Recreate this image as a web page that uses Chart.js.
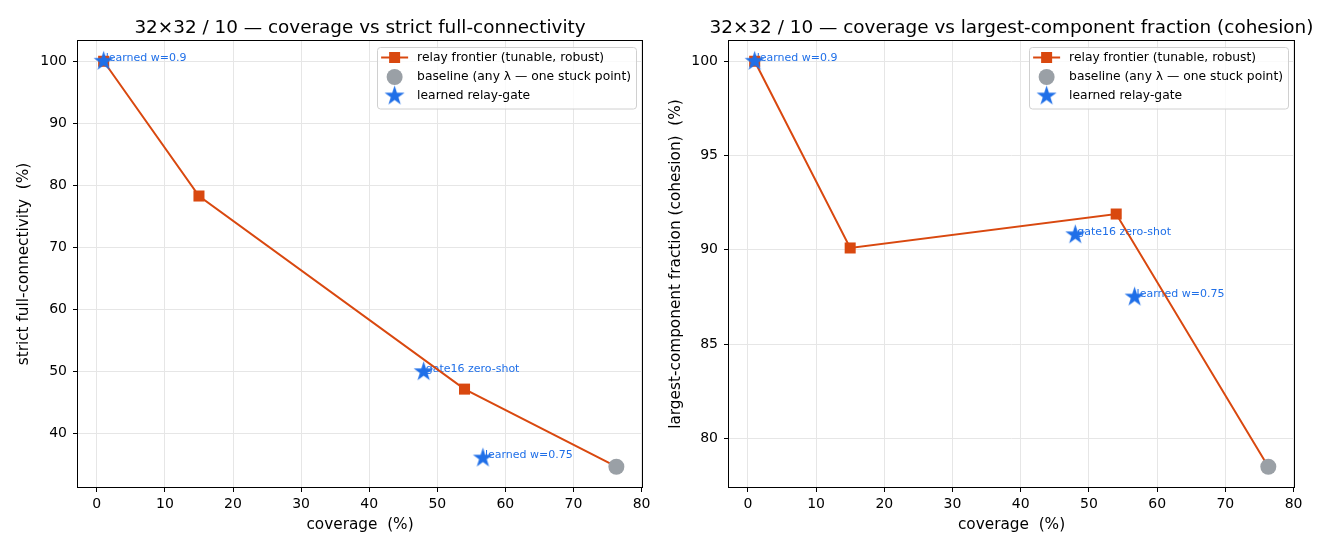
<!DOCTYPE html>
<html>
<head>
<meta charset="utf-8">
<script src="https://cdn.jsdelivr.net/npm/chart.js@4.4.1/dist/chart.umd.min.js"></script>
<style>
  html, body { margin: 0; padding: 0; background: #fff; }
  #wrap { position: relative; width: 1320px; height: 550px; }
  canvas { position: absolute; top: 0; }
</style>
</head>
<body>
<div id="wrap">
  <canvas id="strictChart" width="660" height="550" style="left:0"></canvas>
  <canvas id="cohesionChart" width="660" height="550" style="left:660px"></canvas>
</div>
<script>
// values
const coverageTicks = [0, 10, 20, 30, 40, 50, 60, 70, 80];
const strictTicks = [40, 50, 60, 70, 80, 90, 100];
const cohesionTicks = [80, 85, 90, 95, 100];

const frontierCoverage = [1, 15, 54, 76.3];
const frontierStrict = [100, 78.3, 47.2, 34.7];
const frontierCohesion = [100, 90.1, 91.9, 78.5];

const baselineCoverage = [76.3];
const baselineStrict = [34.7];
const baselineCohesion = [78.5];

const learnedCoverage = [1, 48, 56.7];
const learnedStrict = [100, 50, 36.1];
const learnedCohesion = [100, 90.8, 87.5];
const learnedLabels = ['learned w=0.9', 'gate16 zero-shot', 'learned w=0.75'];

const seriesLabels = ['relay frontier (tunable, robust)', 'baseline (any \u03bb \u2014 one stuck point)', 'learned relay-gate'];

const ORANGE = '#d9480f';
const GREY = '#9aa0a6';
const BLUE = '#1f6fe8';
const FONT = '"DejaVu Sans", sans-serif';

function makeStar(r, color) {
    const s = Math.ceil(r * 2 + 2);
    const c = document.createElement('canvas');
    c.width = s; c.height = s;
    const g = c.getContext('2d');
    g.fillStyle = color;
    g.beginPath();
    for (let i = 0; i < 10; i++) {
        const rr = i % 2 === 0 ? r : r * 0.382;
        const a = -Math.PI / 2 + i * Math.PI / 5;
        const x = s / 2 + rr * Math.cos(a), y = s / 2 + rr * Math.sin(a);
        if (i === 0) g.moveTo(x, y); else g.lineTo(x, y);
    }
    g.closePath();
    g.fill();
    return c;
}
const starImg = makeStar(10.5, BLUE);

function zip(xs, ys) { return xs.map((x, i) => ({ x: x, y: ys[i] })); }

function padRange(vals) {
    const lo = Math.min(...vals), hi = Math.max(...vals);
    const m = (hi - lo) * 0.05;
    return [lo - m, hi + m];
}

// frame, title, annotations and a matplotlib-like legend
const decor = {
    id: 'decor',
    beforeDatasetsDraw(chart, args, opts) {
        const ctx = chart.ctx;
        const xs = chart.scales.x, ys = chart.scales.y;
        ctx.save();
        ctx.font = '11px ' + FONT;
        ctx.fillStyle = BLUE;
        ctx.textBaseline = 'alphabetic';
        learnedCoverage.forEach((v, i) => {
            const px = xs.getPixelForValue(v), py = ys.getPixelForValue(opts.learnedY[i]);
            ctx.fillText(learnedLabels[i], px + 2, py);
        });
        ctx.restore();
    },
    afterDraw(chart, args, opts) {
        const ctx = chart.ctx;
        const a = chart.chartArea;
        ctx.save();
        // spines
        ctx.strokeStyle = '#000';
        ctx.lineWidth = 1;
        ctx.strokeRect(Math.round(a.left) - 0.5, Math.round(a.top) - 0.5, Math.round(a.right - a.left) + 1, Math.round(a.bottom - a.top) + 1);
        // title
        ctx.fillStyle = '#000';
        ctx.font = '18.4px ' + FONT;
        ctx.textAlign = 'center';
        ctx.textBaseline = 'alphabetic';
        ctx.fillText(opts.title, (a.left + a.right) / 2, 33);
        // legend
        ctx.font = '12.3px ' + FONT;
        ctx.textAlign = 'left';
        ctx.textBaseline = 'middle';
        const tw = Math.max(...seriesLabels.map(t => ctx.measureText(t).width));
        const w = 40 + tw + 5, h = 61.5;
        const bx = a.right - 6 - w, by = a.top + 6;
        ctx.beginPath();
        ctx.roundRect(Math.round(bx) + 0.5, Math.round(by) + 0.5, Math.round(w), h, 3);
        ctx.fillStyle = 'rgba(255,255,255,0.8)';
        ctx.fill();
        ctx.strokeStyle = '#d0d0d0';
        ctx.stroke();
        const hx = bx + 17.5;
        const rows = [by + 10.5, by + 30, by + 49];
        // frontier handle
        ctx.strokeStyle = ORANGE;
        ctx.lineWidth = 2;
        ctx.beginPath();
        ctx.moveTo(bx + 4, rows[0]); ctx.lineTo(bx + 31, rows[0]);
        ctx.stroke();
        ctx.fillStyle = ORANGE;
        ctx.fillRect(hx - 5.5, rows[0] - 5.5, 11, 11);
        // baseline handle
        ctx.fillStyle = GREY;
        ctx.beginPath();
        ctx.arc(hx, rows[1], 8, 0, Math.PI * 2);
        ctx.fill();
        // learned handle
        ctx.drawImage(starImg, hx - starImg.width / 2, rows[2] - starImg.height / 2);
        ctx.fillStyle = '#000';
        seriesLabels.forEach((t, i) => ctx.fillText(t, bx + 40, rows[i]));
        ctx.restore();
    }
};

function buildChart(id, cfg) {
    const allX = frontierCoverage.concat(baselineCoverage, learnedCoverage);
    const allY = cfg.frontierY.concat(cfg.baselineY, cfg.learnedY);
    const [xMin, xMax] = padRange(allX);
    const [yMin, yMax] = padRange(allY);
    return new Chart(document.getElementById(id), {
        type: 'scatter',
        data: {
            datasets: [{
                label: seriesLabels[2],
                data: zip(learnedCoverage, cfg.learnedY),
                pointStyle: starImg,
                pointRadius: 10,
                order: 0
            }, {
                label: seriesLabels[1],
                data: zip(baselineCoverage, cfg.baselineY),
                pointStyle: 'circle',
                pointRadius: 8,
                backgroundColor: GREY,
                pointBorderWidth: 0,
                order: 1
            }, {
                label: seriesLabels[0],
                data: zip(frontierCoverage, cfg.frontierY),
                showLine: true,
                borderColor: ORANGE,
                borderWidth: 2,
                backgroundColor: ORANGE,
                pointStyle: 'rect',
                pointRadius: 7.8,
                pointBorderWidth: 0,
                order: 2
            }]
        },
        options: {
            responsive: false,
            animation: false,
            devicePixelRatio: 1,
            layout: { padding: { left: 0, top: 41, right: cfg.padRight, bottom: 0 } },
            plugins: {
                legend: { display: false },
                tooltip: { enabled: false },
                decor: { title: cfg.title, learnedY: cfg.learnedY }
            },
            scales: {
                x: {
                    type: 'linear',
                    min: xMin,
                    max: xMax,
                    afterBuildTicks: s => { s.ticks = coverageTicks.map(v => ({ value: v })); },
                    afterFit: s => { s.height = 63; },
                    ticks: { color: '#000', font: { family: FONT, size: 14 }, padding: 4 },
                    grid: { color: '#e6e6e6', tickColor: '#000', tickLength: 5 },
                    border: { display: false },
                    title: { display: true, text: 'coverage  (%)', color: '#000', font: { family: FONT, size: 15.3 }, padding: { top: 0, bottom: 15.8 } }
                },
                y: {
                    type: 'linear',
                    min: yMin,
                    max: yMax,
                    afterBuildTicks: s => { s.ticks = cfg.yTicks.map(v => ({ value: v })); },
                    afterFit: s => { s.width = cfg.yWidth; },
                    ticks: { color: '#000', font: { family: FONT, size: 14 }, padding: 6 },
                    grid: { color: '#e6e6e6', tickColor: '#000', tickLength: 5 },
                    border: { display: false },
                    title: { display: true, text: cfg.yTitle, color: '#000', font: { family: FONT, size: 15.3 }, padding: { top: cfg.yTitlePad, bottom: 0 } }
                }
            }
        },
        plugins: [decor]
    });
}

buildChart('strictChart', {
    title: '32\u00d732 / 10 \u2014 coverage vs strict full-connectivity',
    yTitle: 'strict full-connectivity  (%)',
    frontierY: frontierStrict,
    baselineY: baselineStrict,
    learnedY: learnedStrict,
    yTicks: strictTicks,
    yWidth: 78,
    yTitlePad: 14.8,
    padRight: 18
});

buildChart('cohesionChart', {
    title: '32\u00d732 / 10 \u2014 coverage vs largest-component fraction (cohesion)',
    yTitle: 'largest-component fraction (cohesion)  (%)',
    frontierY: frontierCohesion,
    baselineY: baselineCohesion,
    learnedY: learnedCohesion,
    yTicks: cohesionTicks,
    yWidth: 69,
    yTitlePad: 6.8,
    padRight: 26
});
</script>
</body>
</html>
